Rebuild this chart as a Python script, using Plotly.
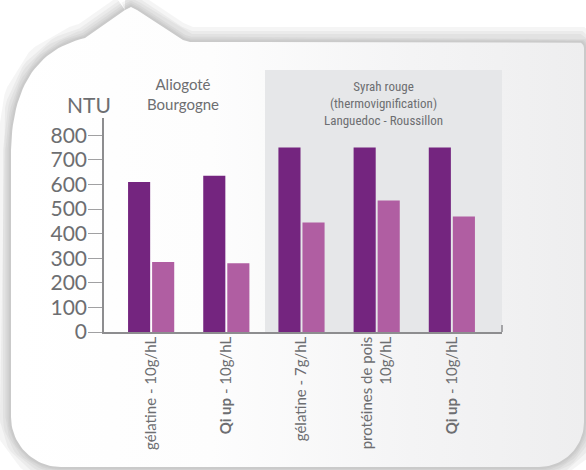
import numpy as np
import plotly.graph_objects as go

# ---- data -------------------------------------------------------------
treatments = [
    "gélatine - 10g/hL",
    "<b>Qi up</b> - 10g/hL",
    "gélatine - 7g/hL",
    "protéines de pois<br>10g/hL",
    "<b>Qi up</b> - 10g/hL",
]
ntu_before = [610, 635, 750, 750, 750]
ntu_after = [285, 280, 445, 535, 470]
y_ticks = [0, 100, 200, 300, 400, 500, 600, 700, 800]

# ---- geometry (pixels of the 586 x 470 canvas) --------------------------
W, H = 586, 470
PLOT_L, PLOT_R, PLOT_T, PLOT_B = 104, 502, 118, 332
X_RANGE = [-0.627, 4.667]
Y_RANGE = [0, 870]

DARK = "#74257f"
LIGHT = "#b05ea2"
TEXT = "#6d6e71"
AXIS = "#8d8d8f"
FONT = "Lato, 'Open Sans', sans-serif"
NARROW = "'Liberation Sans Narrow', 'Roboto Condensed', 'Liberation Sans', sans-serif"


def arc(cx, cy, r, a0, a1, n=28):
    t = np.radians(np.linspace(a0, a1, n))
    return list(cx + r * np.cos(t)), list(cy + r * np.sin(t))


def quad(p0, p1, p2, n=30):
    t = np.linspace(0, 1, n)
    xs = (1 - t) ** 2 * p0[0] + 2 * (1 - t) * t * p1[0] + t ** 2 * p2[0]
    ys = (1 - t) ** 2 * p0[1] + 2 * (1 - t) * t * p1[1] + t ** 2 * p2[1]
    return list(xs), list(ys)


def bubble_outline():
    xs, ys = [125, 131, 137, 176, 183, 190], [10, 7, 10, 36, 40, 42]
    for seg in (arc(578, 48, 6, -90, 0), arc(539, 422, 45, 0, 90), arc(61, 417, 50, 90, 180)):
        xs += seg[0]
        ys += seg[1]
    bx, by = quad((11, 150), (13, 55), (85, 38))
    xs += bx + [125]
    ys += by + [10]
    return xs, ys


bx, by = bubble_outline()

fig = go.Figure()

# soft shadow around the speech bubble
for w in (30, 22, 16, 11, 7, 4):
    fig.add_trace(go.Scatter(
        x=bx, y=by, mode="lines", line=dict(color="rgba(100,100,108,0.065)", width=w),
        hoverinfo="skip", showlegend=False, xaxis="x", yaxis="y"))

# the bubble itself
fig.add_trace(go.Scatter(
    x=bx, y=by, mode="lines", fill="toself", line=dict(width=0, color="rgba(0,0,0,0)"),
    fillgradient=dict(type="horizontal",
                      colorscale=[[0, "#ffffff"], [0.35, "#fdfdfd"], [0.7, "#f4f4f5"], [1, "#eeeeef"]]),
    hoverinfo="skip", showlegend=False, xaxis="x", yaxis="y"))

# shaded panel behind the Syrah group
px0, px1, py0, py1 = 265, PLOT_R, 70, PLOT_B
fig.add_trace(go.Scatter(
    x=[px0, px1, px1, px0, px0], y=[py0, py0, py1, py1, py0], mode="lines", fill="toself",
    fillcolor="#e6e7e9", line=dict(width=0, color="rgba(0,0,0,0)"),
    hoverinfo="skip", showlegend=False, xaxis="x", yaxis="y"))

# small closing tick at the right end of the category axis
fig.add_trace(go.Scatter(
    x=[PLOT_R, PLOT_R], y=[PLOT_B - 7, PLOT_B], mode="lines",
    line=dict(color=AXIS, width=1.5), hoverinfo="skip", showlegend=False, xaxis="x", yaxis="y"))

# bars
xpos = list(range(len(treatments)))
fig.add_trace(go.Bar(
    x=xpos, y=ntu_before, offset=-0.307, width=0.294, marker=dict(color=DARK, line=dict(width=0)),
    showlegend=False, hoverinfo="skip", xaxis="x2", yaxis="y2"))
fig.add_trace(go.Bar(
    x=xpos, y=ntu_after, offset=0.013, width=0.294, marker=dict(color=LIGHT, line=dict(width=0)),
    showlegend=False, hoverinfo="skip", xaxis="x2", yaxis="y2"))

annotations = [
    dict(text="NTU", x=89, y=119, xanchor="center", yanchor="bottom",
         font=dict(family=FONT, size=21, color=TEXT)),
    dict(text="Aliogoté<br>Bourgogne", x=183, y=115, xanchor="center", yanchor="bottom",
         font=dict(family=FONT, size=15, color=TEXT)),
    dict(text="Syrah rouge<br>(thermovignification)<br>Languedoc - Roussillon", x=383, y=130,
         xanchor="center", yanchor="bottom", font=dict(family=NARROW, size=13, color=TEXT)),
]
for a in annotations:
    a.update(xref="x", yref="y", showarrow=False)

fig.update_layout(
    width=W, height=H, autosize=False,
    margin=dict(l=0, r=0, t=0, b=0, pad=0),
    paper_bgcolor="#ffffff", plot_bgcolor="rgba(0,0,0,0)",
    barmode="overlay",
    xaxis=dict(domain=[0, 1], range=[0, W], visible=False, fixedrange=True, automargin=False),
    yaxis=dict(domain=[0, 1], range=[H, 0], visible=False, fixedrange=True, automargin=False),
    xaxis2=dict(
        domain=[PLOT_L / W, PLOT_R / W], anchor="y2", range=X_RANGE, automargin=False,
        tickvals=xpos, ticktext=treatments, tickangle=-90, ticks="", ticklabelstandoff=-3,
        showline=True, linecolor=AXIS, linewidth=1.5, showgrid=False, zeroline=False,
        tickfont=dict(family=FONT, size=15, color=TEXT), fixedrange=True),
    yaxis2=dict(
        domain=[(H - PLOT_B) / H, (H - PLOT_T) / H], anchor="x2", range=Y_RANGE, automargin=False,
        tickvals=y_ticks, ticks="outside", ticklen=14, tickwidth=1, tickcolor="#a0a0a2",
        ticklabelstandoff=-3,
        showline=True, linecolor=AXIS, linewidth=1.5, showgrid=False, zeroline=False,
        tickfont=dict(family=FONT, size=21, color=TEXT), fixedrange=True),
    annotations=annotations,
    hovermode=False,
)

fig.write_html("out.html")
